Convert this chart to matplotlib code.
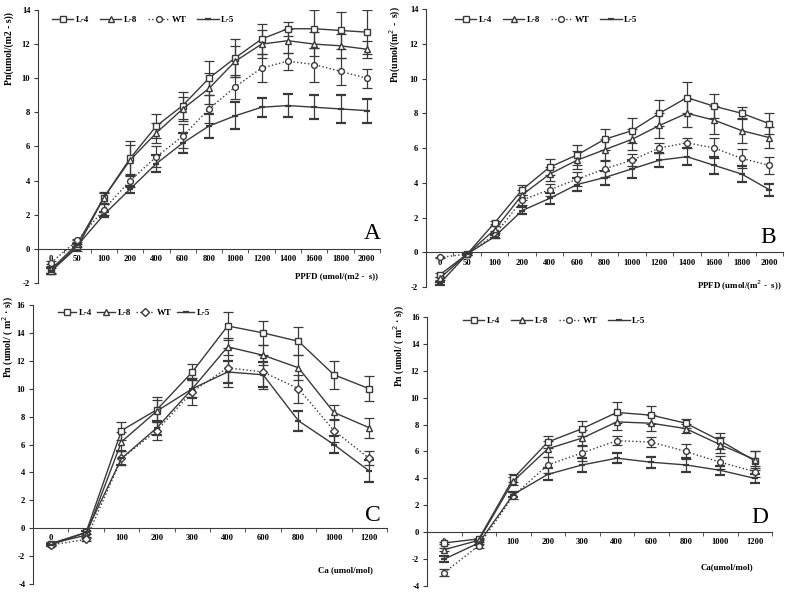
import numpy as np
import matplotlib
matplotlib.use('Agg')
from matplotlib import pyplot as plt
from matplotlib.lines import Line2D

plt.rcParams['font.family'] = ['Liberation Serif', 'DejaVu Serif']

# ---- data ----
ppfd = ['0', '50', '100', '200', '400', '600', '800', '1000', '1200', '1400', '1600', '1800', '2000']
ca = ['0', '50', '100', '200', '300', '400', '600', '800', '1000', '1200']
names = ['L-4', 'L-8', 'WT', 'L-5']

a_mean = {
    'L-4': [-1.3, 0.1, 3.0, 5.3, 7.2, 8.4, 10.0, 11.2, 12.3, 12.9, 12.9, 12.8, 12.7],
    'L-8': [-1.2, 0.3, 3.0, 5.2, 6.8, 8.2, 9.4, 11.0, 12.0, 12.2, 12.0, 11.9, 11.7],
    'WT':  [-0.8, 0.5, 2.3, 4.0, 5.4, 6.6, 8.2, 9.5, 10.6, 11.0, 10.8, 10.4, 10.0],
    'L-5': [-1.3, 0.2, 2.0, 3.5, 5.0, 6.2, 7.2, 7.8, 8.3, 8.4, 8.3, 8.2, 8.1],
}
a_err = {
    'L-4': [0.2, 0.2, 0.35, 1.05, 0.7, 0.8, 1.0, 1.1, 0.9, 0.4, 1.1, 1.1, 1.3],
    'L-8': [0.2, 0.2, 0.3, 0.9, 0.6, 0.7, 0.9, 0.9, 0.8, 0.7, 0.7, 0.7, 0.5],
    'WT':  [0.1, 0.1, 0.3, 0.4, 0.6, 0.7, 0.8, 0.7, 0.8, 0.5, 1.0, 0.8, 0.55],
    'L-5': [0.2, 0.1, 0.15, 0.2, 0.5, 0.6, 0.7, 0.8, 0.55, 0.65, 0.7, 0.8, 0.7],
}
b_mean = {
    'L-4': [-1.3, -0.1, 1.7, 3.6, 4.9, 5.6, 6.5, 7.0, 8.0, 8.9, 8.4, 8.0, 7.4],
    'L-8': [-1.5, -0.1, 1.3, 3.3, 4.5, 5.3, 5.9, 6.5, 7.3, 8.0, 7.6, 7.0, 6.6],
    'WT':  [-0.3, -0.1, 1.0, 3.0, 3.6, 4.2, 4.8, 5.3, 6.0, 6.3, 6.0, 5.4, 5.0],
    'L-5': [-1.8, -0.1, 0.9, 2.4, 3.1, 3.9, 4.3, 4.8, 5.3, 5.5, 5.0, 4.5, 3.6],
}
b_err = {
    'L-4': [0.1, 0.05, 0.1, 0.3, 0.45, 0.6, 0.6, 0.7, 0.75, 0.9, 0.7, 0.35, 0.6],
    'L-8': [0.1, 0.05, 0.2, 0.3, 0.4, 0.5, 0.6, 0.6, 0.7, 0.8, 0.8, 0.7, 0.6],
    'WT':  [0.05, 0.05, 0.2, 0.3, 0.35, 0.4, 0.45, 0.35, 0.3, 0.3, 0.6, 0.55, 0.5],
    'L-5': [0.1, 0.05, 0.1, 0.2, 0.3, 0.35, 0.4, 0.5, 0.4, 0.5, 0.5, 0.45, 0.35],
}
c_mean = {
    'L-4': [-1.1, -0.3, 7.0, 8.5, 11.2, 14.5, 14.0, 13.4, 11.0, 10.0],
    'L-8': [-1.1, -0.5, 6.2, 8.4, 10.0, 13.0, 12.4, 11.5, 8.3, 7.2],
    'WT':  [-1.2, -0.8, 5.0, 7.0, 9.8, 11.5, 11.2, 10.0, 7.0, 5.0],
    'L-5': [-1.2, -0.3, 5.0, 7.2, 10.0, 11.2, 11.0, 7.7, 6.0, 4.1],
}
c_err = {
    'L-4': [0.1, 0.1, 0.65, 0.9, 0.55, 1.0, 0.85, 1.0, 1.0, 0.9],
    'L-8': [0.1, 0.1, 0.7, 0.8, 0.6, 0.6, 0.7, 0.9, 0.55, 0.7],
    'WT':  [0.1, 0.1, 0.5, 0.7, 1.0, 1.4, 1.2, 1.0, 0.8, 0.5],
    'L-5': [0.1, 0.1, 0.5, 0.5, 0.7, 0.8, 0.9, 0.7, 0.6, 0.8],
}
d_mean = {
    'L-4': [-0.8, -0.5, 4.0, 6.7, 7.7, 8.9, 8.7, 8.1, 6.8, 5.3],
    'L-8': [-1.3, -0.6, 3.8, 6.2, 7.0, 8.2, 8.1, 7.7, 6.5, 5.4],
    'WT':  [-3.0, -1.0, 2.7, 5.0, 5.9, 6.8, 6.7, 6.0, 5.2, 4.5],
    'L-5': [-2.0, -0.8, 2.8, 4.3, 5.0, 5.5, 5.2, 5.0, 4.6, 4.0],
}
d_err = {
    'L-4': [0.1, 0.1, 0.3, 0.45, 0.55, 0.75, 0.65, 0.35, 0.6, 0.7],
    'L-8': [0.1, 0.1, 0.3, 0.6, 0.6, 0.6, 0.6, 0.35, 0.6, 0.6],
    'WT':  [0.25, 0.15, 0.25, 0.6, 0.6, 0.35, 0.4, 0.55, 0.5, 0.4],
    'L-5': [0.2, 0.15, 0.2, 0.45, 0.5, 0.35, 0.4, 0.5, 0.35, 0.35],
}

LC = '#3a3a3a'
styles = {
    'L-4': dict(marker='s', ls='-', mfc='white', ms=4.2),
    'L-8': dict(marker='^', ls='-', mfc='white', ms=3.8),
    'WT':  dict(marker='o', ls=':', mfc='white', ms=4.2),
    'L-5': dict(marker='_', ls='-', mfc=LC, ms=5, mew=1.6),
}


def panel(rect, cats, means, errs, ylim, yticks, ylabel, ylab_pos, xlabel, xlab_pos,
          letter, let_pos, leg_pos, colsp=1.2, hlen=2.4, wt_marker='o'):
    ax = fig.add_axes(rect)
    x = np.arange(len(cats))
    handles = []
    for n in names:
        st = dict(styles[n])
        if n == 'WT':
            st['marker'] = wt_marker
        ax.errorbar(x, means[n], yerr=errs[n], color=LC, lw=1, mec=LC, ecolor=LC,
                    elinewidth=0.9, capsize=3.5, capthick=0.9, **st)
        handles.append(Line2D([], [], color=LC, lw=1, mec=LC, label=n, **st))
    ax.set_xlim(-0.5, len(cats) - 0.5)
    ax.set_ylim(*ylim)
    for s in ['top', 'right']:
        ax.spines[s].set_visible(False)
    ax.spines['bottom'].set_position(('data', 0))
    ax.spines['bottom'].set_color(LC)
    ax.spines['left'].set_color(LC)
    ax.set_xticks(x)
    ax.set_xticklabels(cats, fontsize=6.2, fontweight='bold')
    ax.set_xticks(np.arange(len(cats)) + 0.5, minor=True)
    ax.tick_params(axis='x', which='major', length=0, pad=4.5)
    ax.tick_params(axis='x', which='minor', length=3, direction='out', color=LC)
    ax.set_yticks(yticks)
    ax.set_yticklabels([str(v) for v in yticks], fontsize=6.2, fontweight='bold')
    ax.tick_params(axis='y', length=3, direction='out', color=LC, pad=2.5)
    ax.set_ylabel(ylabel, fontsize=7, fontweight='bold')
    ax.yaxis.set_label_coords(*ylab_pos)
    ax.text(xlab_pos[0], xlab_pos[1], xlabel, fontsize=6.4, fontweight='bold', ha='right', va='center')
    ax.text(let_pos[0], let_pos[1], letter, fontsize=17, ha='center', va='center')
    ax.legend(handles=handles, loc='upper left', ncol=4, frameon=False,
              prop=dict(weight='bold', size=6.4), handlelength=hlen, handletextpad=0.3,
              columnspacing=colsp, bbox_to_anchor=leg_pos, borderaxespad=0, borderpad=0)
    return ax


fig = plt.figure(figsize=(7.85, 5.94), dpi=100)

panel([0.0484, 0.5236, 0.4357, 0.4596], ppfd, a_mean, a_err, (-2, 14), list(range(-2, 15, 2)),
      'Pn(umol/(m2 - s))', (-0.07, 0.857), 'PPFD (umol/(m2 -  s))', (12.42, -1.6),
      'A', (12.2, 0.88), (0.041, 0.978))
panel([0.5427, 0.5168, 0.4548, 0.468], ppfd, b_mean, b_err, (-2, 14), list(range(-2, 15, 2)),
      'Pn(umol/(m$^2$ -  s))', (-0.064, 0.874), 'PPFD (umol/(m$^2$ -  s))', (12.45, -1.95),
      'B', (11.95, 0.86), (0.081, 0.975))
panel([0.042, 0.0168, 0.451, 0.4697], ca, c_mean, c_err, (-4, 16), list(range(-4, 17, 2)),
      'Pn (umol/ ( m$^2$ · s))', (-0.047, 0.885), 'Ca (umol/mol)', (9.1, -3.0),
      'C', (9.1, 0.93), (0.071, 0.986), colsp=0.6, hlen=2.0, wt_marker='D')
panel([0.544, 0.0135, 0.4395, 0.4529], ca, d_mean, d_err, (-4, 16), list(range(-4, 17, 2)),
      'Pn (umol/ ( m$^2$ · s))', (-0.058, 0.89), 'Ca(umol/mol)', (8.95, -2.6),
      'D', (9.15, 1.1), (0.104, 1.0))

fig.savefig('out.png', dpi=100)
